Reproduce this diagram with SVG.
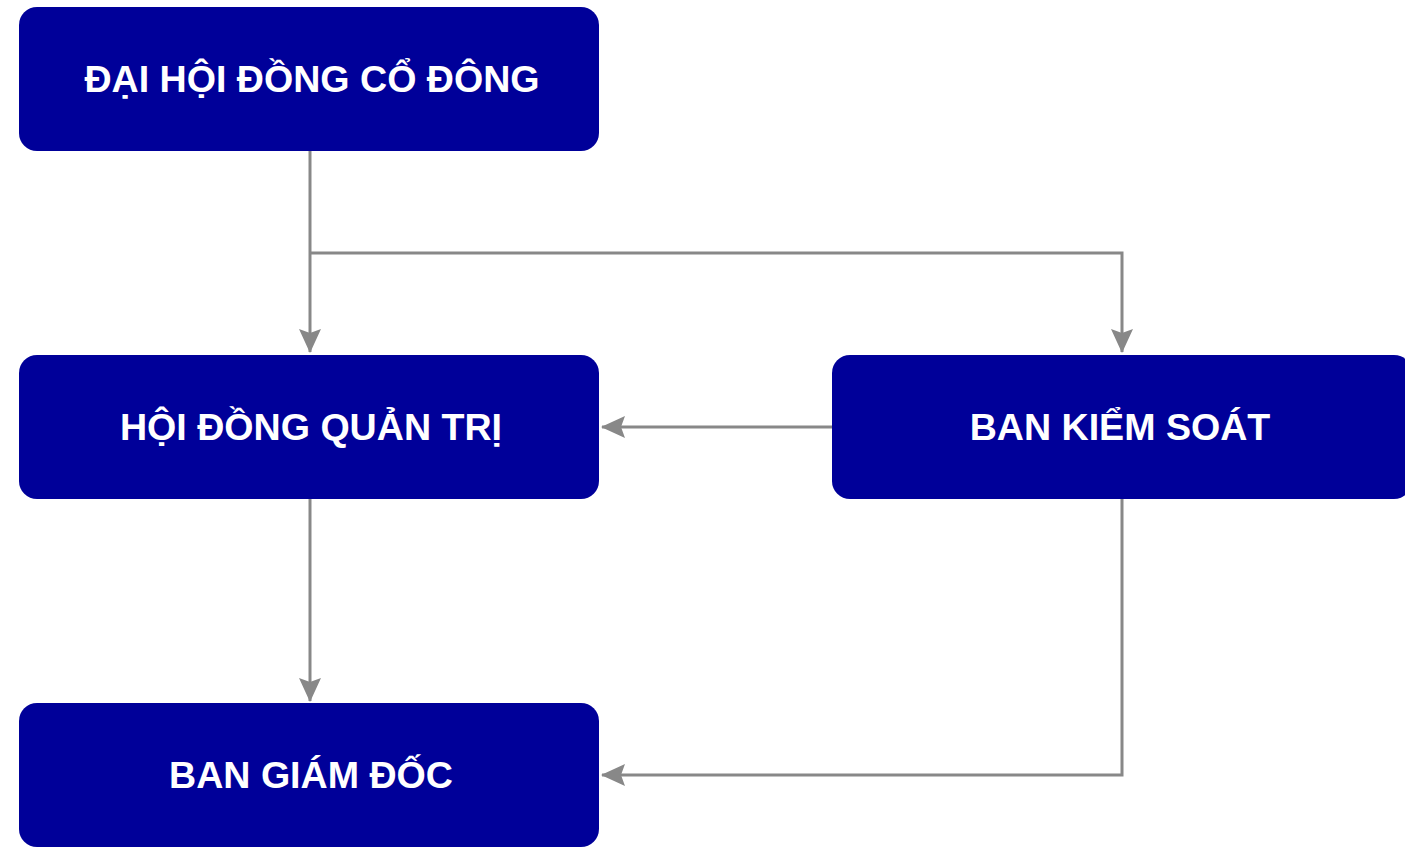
<svg xmlns="http://www.w3.org/2000/svg" width="1405" height="848" viewBox="0 0 1405 848">
<style>
.box{fill:#000099;}
.lbl{fill:#ffffff;font-family:"Liberation Sans",Arial,sans-serif;font-weight:bold;font-size:37.6px;text-anchor:middle;}
.conn{fill:none;stroke:#888888;stroke-width:3;}
</style>
<defs>
<marker id="arr" viewBox="0 0 24 24" refX="23" refY="12" markerWidth="24" markerHeight="24" markerUnits="userSpaceOnUse" orient="auto">
<path d="M0,1 L24,12 L0,23 L4,12 Z" fill="#888888"/>
</marker>
</defs>
<rect width="1405" height="848" fill="#ffffff"/>
<g id="connectors">
<path class="conn" d="M310,151 L310,352" marker-end="url(#arr)"/>
<path class="conn" d="M310,253 L1122,253 L1122,352" marker-end="url(#arr)"/>
<path class="conn" d="M832,427 L602,427" marker-end="url(#arr)"/>
<path class="conn" d="M310,499 L310,701" marker-end="url(#arr)"/>
<path class="conn" d="M1122,499 L1122,775 L602,775" marker-end="url(#arr)"/>
</g>
<g id="node-dhdcd">
<rect class="box" x="19" y="7" width="580" height="144" rx="18"/>
<text class="lbl" x="312" y="92">ĐẠI HỘI ĐỒNG CỔ ĐÔNG</text>
</g>
<g id="node-hdqt">
<rect class="box" x="19" y="355" width="580" height="144" rx="18"/>
<text class="lbl" x="311" y="440">HỘI ĐỒNG QUẢN TRỊ</text>
</g>
<g id="node-bks">
<rect class="box" x="832" y="355" width="580" height="144" rx="18"/>
<text class="lbl" x="1120" y="440">BAN KIỂM SOÁT</text>
</g>
<g id="node-bgd">
<rect class="box" x="19" y="703" width="580" height="144" rx="18"/>
<text class="lbl" x="311" y="788">BAN GIÁM ĐỐC</text>
</g>
</svg>
